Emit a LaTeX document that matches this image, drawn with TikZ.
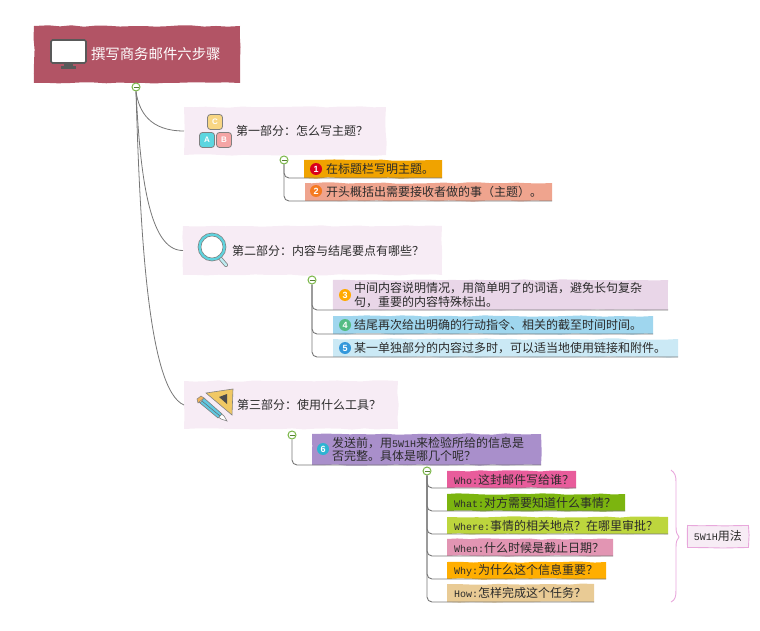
\documentclass[tikz,border=0pt]{standalone}
\usepackage{fontspec}
\usetikzlibrary{decorations.pathmorphing}
\setmainfont{Noto Sans CJK SC}
\newfontfamily\enfont{Liberation Mono}
\newfontfamily\numfont{Liberation Sans}[BoldFont={Liberation Sans Bold}]
\newcommand{\en}[1]{{\enfont\fontsize{10}{14}\selectfont #1}}
\newcommand{\cc}{^^^^ff0c}
\newcommand{\qq}{^^^^ff1f}
\newcommand{\kk}{^^^^ff1a}
\definecolor{txt}{HTML}{2B2B2B}
\definecolor{linegray}{HTML}{777777}
\definecolor{nodepink}{HTML}{F7ECF5}
\definecolor{greenring}{HTML}{7AB648}
\definecolor{bracepink}{HTML}{E8A8DC}
\definecolor{titlered}{HTML}{B25465}
\definecolor{cA}{HTML}{F0A300}
\definecolor{cB}{HTML}{EFA48E}
\definecolor{cC}{HTML}{E9D6E8}
\definecolor{cD}{HTML}{9FD6EE}
\definecolor{cE}{HTML}{CBE9F5}
\definecolor{cF}{HTML}{A98FCB}
\definecolor{cWho}{HTML}{E85C9B}
\definecolor{cWhat}{HTML}{7CB50F}
\definecolor{cWhere}{HTML}{BDD63D}
\definecolor{cWhen}{HTML}{E295B3}
\definecolor{cWhy}{HTML}{FFAE00}
\definecolor{cHow}{HTML}{E9CB95}
\definecolor{bOne}{HTML}{D9001B}
\definecolor{bTwo}{HTML}{F57A20}
\definecolor{bThree}{HTML}{FFAA00}
\definecolor{bFour}{HTML}{54BC84}
\definecolor{bFive}{HTML}{3498DB}
\definecolor{bSix}{HTML}{2DB4D2}
\definecolor{tileC}{HTML}{F8D684}
\definecolor{tileA}{HTML}{5CD6E0}
\definecolor{tileB}{HTML}{F5A5A5}
\definecolor{rim}{HTML}{5FD4DF}
\definecolor{handle}{HTML}{BEEBF0}
\definecolor{squarey}{HTML}{F0C864}
\definecolor{pencilb}{HTML}{5FC8E1}
\definecolor{pencilo}{HTML}{F0B45A}
\tikzset{
  x=1pt,y=-1pt,
  wob/.style={decorate,decoration={random steps,segment length=12pt,amplitude=0.7pt}},
  textbox/.style n args={4}{anchor=north west,fill=#1,wob,inner sep=0pt,outer sep=0pt,
     text width=#2 pt,minimum height=#3 pt,align=left,text=txt,font=\fontsize{#4}{14}\selectfont},
  collapse/.style={circle,draw=greenring,line width=1pt,fill=white,minimum size=8pt,inner sep=0pt,
     path picture={\draw[greenring!70!black,line width=0.9pt] ([xshift=1.5pt]path picture bounding box.west)--([xshift=-1.5pt]path picture bounding box.east);}},
  badge/.style={circle,fill=#1,minimum size=12pt,inner sep=0pt,text=white,font=\numfont\bfseries\fontsize{9}{9}\selectfont},
  conn/.style={draw=linegray,line width=0.9pt,rounded corners=5pt},
  trunk/.style={draw=linegray,line width=0.8pt},
  tile/.style={draw=gray,line width=0.8pt,fill=#1,rounded corners=3pt,minimum size=15pt,inner sep=0pt,text=white,font=\numfont\bfseries\fontsize{8}{8}\selectfont},
}
\pgfmathsetseed{7}
\begin{document}
\begin{tikzpicture}
\useasboundingbox (0,0) rectangle (760,631);

% root
\node[textbox={titlered}{206}{57}{14.4},text=white] (root) at (34,26) {\hspace*{57pt}撰写商务邮件六步骤};
\node[collapse] (rc) at (136,87) {};

% level 1
\node[textbox={nodepink}{202}{48}{12}] (n1) at (184,107) {\hspace*{52pt}第一部分\kk 怎么写主题\qq};
\node[textbox={nodepink}{259}{49}{12}] (n2) at (183,226) {\hspace*{49pt}第二部分\kk 内容与结尾要点有哪些\qq};
\node[textbox={nodepink}{214}{48}{12}] (n3) at (184,381) {\hspace*{53pt}第三部分\kk 使用什么工具\qq};

\draw[trunk] (rc.south) .. controls (139,112) and (150,131) .. (n1.west);
\draw[trunk] (rc.south) .. controls (140,170) and (148,251) .. (n2.west);
\draw[trunk] (rc.south) .. controls (140,230) and (148,390) .. (n3.west);

% group 1
\node[collapse] (c1) at (284,160) {};
\node[textbox={cA}{138}{18}{12}] (i1) at (304,160) {\hspace*{22pt}在标题栏写明主题。};
\node[textbox={cB}{247}{18}{12}] (i2) at (305,183) {\hspace*{21pt}开头概括出需要接收者做的事^^^^ff08主题^^^^ff09。};
\node[badge=bOne] (b1) at (316,169) {1};
\node[badge=bTwo] (b2) at (316,191) {2};
\draw[conn] (c1.south) |- (i1.south west) -- (i1.south east);
\draw[conn] (c1.south) |- (i2.south west) -- (i2.south east);

% group 2
\node[collapse] (c2) at (312,280) {};
\node[textbox={cC}{335}{30}{12}] (i3) at (333,280) {\hspace*{21pt}\parbox[c]{300pt}{\baselineskip=13.5pt 中间内容说明情况\cc 用简单明了的词语\cc 避免长句复杂\\句\cc 重要的内容特殊标出。}};
\node[textbox={cD}{320}{18}{12}] (i4) at (333,316) {\hspace*{21pt}结尾再次给出明确的行动指令、相关的截至时间时间。};
\node[textbox={cE}{345}{18}{12}] (i5) at (333,339) {\hspace*{21pt}某一单独部分的内容过多时\cc 可以适当地使用链接和附件。};
\node[badge=bThree] (b3) at (345,295) {3};
\node[badge=bFour] (b4) at (345,325) {4};
\node[badge=bFive] (b5) at (345,348) {5};
\draw[conn] (c2.south) |- (i3.south west) -- (i3.south east);
\draw[conn] (c2.south) |- (i4.south west) -- (i4.south east);
\draw[conn] (c2.south) |- (i5.south west) -- (i5.south east);

% group 3
\node[collapse] (c3) at (292,435) {};
\node[textbox={cF}{229}{31}{12}] (i6) at (312,434) {\hspace*{20pt}\parbox[c]{205pt}{\baselineskip=13.5pt 发送前\cc 用\en{5W1H}来检验所给的信息是\\否完整。具体是哪几个呢\qq}};
\node[badge=bSix] (b6) at (323,449) {6};
\draw[conn] (c3.south) |- (i6.south west) -- (i6.south east);

% group 4
\node[collapse] (c4) at (427,471) {};
\node[textbox={cWho}{129}{17}{12}] (w1) at (447,471) {\hspace*{7pt}\en{Who:}这封邮件写给谁\qq};
\node[textbox={cWhat}{178}{17}{12}] (w2) at (447,494) {\hspace*{7pt}\en{What:}对方需要知道什么事情\qq};
\node[textbox={cWhere}{221}{17}{12}] (w3) at (447,517) {\hspace*{7pt}\en{Where:}事情的相关地点\qq 在哪里审批\qq};
\node[textbox={cWhen}{166}{17}{12}] (w4) at (447,539) {\hspace*{7pt}\en{When:}什么时候是截止日期\qq};
\node[textbox={cWhy}{159}{17}{12}] (w5) at (447,562) {\hspace*{7pt}\en{Why:}为什么这个信息重要\qq};
\node[textbox={cHow}{147}{18}{12}] (w6) at (447,584) {\hspace*{7pt}\en{How:}怎样完成这个任务\qq};
\foreach \w in {w1,w2,w3,w4,w5,w6}{
  \draw[conn] (c4.south) |- (\w.south west) -- (\w.south east);
}

% summary
\coordinate (bt) at (671,470);
\coordinate (bb) at (671,602);
\coordinate (btip) at (679,537);
\draw[bracepink,line width=0.9pt] (bt) .. controls (675,473) and (676,476) .. (676,482) -- (676,527) .. controls (676,532) and (677,535) .. (btip)
   .. controls (677,539) and (676,542) .. (676,547) -- (676,590) .. controls (676,597) and (675,600) .. (bb);
\node[anchor=north west,draw=bracepink,line width=0.9pt,fill=nodepink,wob,inner sep=0pt,text width=61pt,minimum height=22pt,align=center,text=txt,font=\fontsize{12}{14}\selectfont] (sum) at (687,525) {\en{5W1H}用法};

% icon: monitor
\draw[draw=black!65,line width=1.6pt,fill=white,rounded corners=1.5pt] (51,40) rectangle (86,63);
\fill[black!65] (64,63) rectangle (73,67);
\fill[black!65] (61,66.5) rectangle (76,69);

% icon: ABC
\node[tile=tileC] (tc) at (215,122) {C};
\node[tile=tileA] (ta) at (207,140) {A};
\node[tile=tileB] (tb) at (224,140) {B};

% icon: magnifier
\draw[gray,line width=4pt,line cap=round] (220,258) -- (226,265);
\draw[handle,line width=2.4pt,line cap=round] (220,258) -- (226,265);
\draw[gray,line width=3.6pt,fill=white] (212,247) circle[radius=12.5pt];
\draw[rim,line width=2.2pt] (212,247) circle[radius=12.5pt];

% icon: set square and pencil
\filldraw[fill=squarey,draw=gray,line width=0.6pt] (206,393) -- (233,389) -- (232,415) -- cycle;
\fill[black!70] (219,397) -- (227,394) -- (227,404) -- cycle;
\filldraw[fill=white,draw=gray,line width=0.6pt] (199,402) -- (203,398) -- (224,416) -- (227,421) -- (221,419) -- cycle;
\filldraw[fill=pencilb,draw=gray,line width=0.6pt] (200,403) -- (204,398) -- (222,414) -- (218,418) -- cycle;
\draw[black!60,line width=0.5pt] (202,401) -- (220,416);
\filldraw[fill=pencilo,draw=gray,line width=0.5pt] (198,403) -- (197,399) -- (201,396) -- (204,398) -- cycle;
\end{tikzpicture}
\end{document}
